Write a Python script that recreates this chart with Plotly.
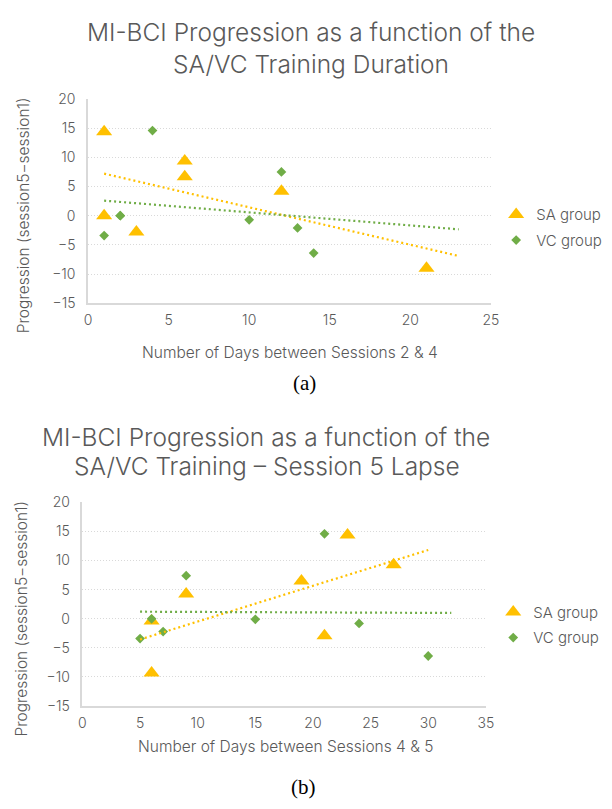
import numpy as np
import plotly.graph_objects as go

# ---------------- data: panel (a) ----------------
A_SA_X = [1, 1, 3, 6, 6, 12, 21]
A_SA_Y = [14.4, 0, -2.8, 9.4, 6.7, 4.2, -9.0]
# VC group: the point at (2, 0) appears twice (overlapping diamonds)
A_VC_X = [1, 2, 2, 4, 10, 12, 13, 14]
A_VC_Y = [-3.4, 0, 0, 14.6, -0.7, 7.5, -2.1, -6.4]
A_SA_TREND_X = [1, 23]
A_VC_TREND_X = [1, 23]
A_XTICKS = [0, 5, 10, 15, 20, 25]

# ---------------- data: panel (b) ----------------
B_SA_X = [6, 6, 9, 19, 21, 23, 27]
B_SA_Y = [-0.4, -9.3, 4.25, 6.5, -2.9, 14.4, 9.3]
B_VC_X = [5, 6, 7, 9, 15, 21, 24, 30]
B_VC_Y = [-3.4, 0, -2.2, 7.4, -0.1, 14.6, -0.8, -6.4]
B_SA_TREND_X = [5, 30]
B_VC_TREND_X = [5, 32]
B_XTICKS = [0, 5, 10, 15, 20, 25, 30, 35]

YTICKS = [-15, -10, -5, 0, 5, 10, 15, 20]

TITLE_A = ["MI-BCI Progression as a function of the", "SA/VC Training Duration"]
TITLE_B = ["MI-BCI Progression as a function of the", "SA/VC Training – Session 5 Lapse"]
XTITLE_A = "Number of Days between Sessions 2 & 4"
XTITLE_B = "Number of Days between Sessions 4 & 5"
YTITLE = "Progression (session5−session1)"
SERIES = ["SA group", "VC group"]

# ---------------- style ----------------
W, H = 612, 809
YEL = "#FFC000"
GRN = "#70AD47"
TXT = "#595959"
GRID = "#d9d9d9"
FONT = "Inter"


def px(v):
    return v / W


def py(v):
    return 1 - v / H


def trend(xs, ys, ends):
    m, c = np.polyfit(xs, ys, 1)
    return [m * e + c for e in ends]


fig = go.Figure()

panels = [
    ("x", "y", "legend", A_SA_X, A_SA_Y, A_VC_X, A_VC_Y, A_SA_TREND_X, A_VC_TREND_X),
    ("x2", "y2", "legend2", B_SA_X, B_SA_Y, B_VC_X, B_VC_Y, B_SA_TREND_X, B_VC_TREND_X),
]
for xa, ya, lg, sx, sy, vx, vy, stx, vtx in panels:
    fig.add_trace(go.Scatter(
        x=sx, y=sy, mode="markers", name=SERIES[0], xaxis=xa, yaxis=ya,
        legend=lg, legendgroup=lg + "sa",
        marker=dict(symbol="triangle-up", size=14, color=YEL, line=dict(width=0)),
    ))
    fig.add_trace(go.Scatter(
        x=vx, y=vy, mode="markers", name=SERIES[1], xaxis=xa, yaxis=ya,
        legend=lg, legendgroup=lg + "vc",
        marker=dict(symbol="diamond", size=7.5, color=GRN, line=dict(width=0)),
    ))
    fig.add_trace(go.Scatter(
        x=stx, y=trend(sx, sy, stx), mode="lines", xaxis=xa, yaxis=ya,
        showlegend=False, hoverinfo="skip",
        line=dict(color=YEL, width=2.2, dash="2px,3px"),
    ))
    fig.add_trace(go.Scatter(
        x=vtx, y=trend(vx, vy, vtx), mode="lines", xaxis=xa, yaxis=ya,
        showlegend=False, hoverinfo="skip",
        line=dict(color=GRN, width=2.2, dash="2px,3px"),
    ))

axis_common = dict(
    showline=True, linecolor=GRID, linewidth=1.5, zeroline=False, ticks="",
    tickfont=dict(family=FONT, size=14, color=TXT, weight=300), fixedrange=True,
)
legend_common = dict(
    xanchor="left", yanchor="middle", bgcolor="rgba(0,0,0,0)",
    font=dict(family=FONT, size=15, color=TXT, weight=300),
    tracegroupgap=3, itemsizing="trace",
)
fig.update_layout(
    width=W, height=H,
    margin=dict(l=0, r=0, t=0, b=0),
    paper_bgcolor="white", plot_bgcolor="white",
    font=dict(family=FONT, color=TXT),
    xaxis=dict(domain=[px(85.7), px(496.7)], range=[0, 25], tickvals=A_XTICKS,
               showgrid=False, anchor="y", ticklabelstandoff=3, **axis_common),
    yaxis=dict(domain=[py(300.5), py(92)], range=[-15, 20], tickvals=YTICKS,
               showgrid=True, gridcolor=GRID, gridwidth=1, griddash="1px,2px",
               anchor="x", ticklabelstandoff=8, **axis_common),
    xaxis2=dict(domain=[px(80), px(491.5)], range=[0, 35], tickvals=B_XTICKS,
                showgrid=False, anchor="y2", ticklabelstandoff=3, **axis_common),
    yaxis2=dict(domain=[py(712), py(504)], range=[-15, 20], tickvals=YTICKS,
                showgrid=True, gridcolor=GRID, gridwidth=1, griddash="1px,2px",
                anchor="x2", ticklabelstandoff=8, **axis_common),
    legend=dict(x=px(502), y=py(223), **legend_common),
    legend2=dict(x=px(499), y=py(629), **legend_common),
    showlegend=True,
)

TF = dict(family=FONT, size=24.5, color=TXT, weight=300)
AF = dict(family=FONT, size=15.5, color=TXT, weight=300)
SF = dict(family="Liberation Serif", size=21, color="#000000")
ann = [
    dict(text=TITLE_A[0], x=px(313), y=py(24), font=TF),
    dict(text=TITLE_A[1], x=px(313), y=py(56), font=TF),
    dict(text=TITLE_B[0], x=px(267), y=py(437), font=TF),
    dict(text=TITLE_B[1], x=px(268), y=py(467), font=TF),
    dict(text=XTITLE_A, x=px(291.5), y=py(351), font=AF),
    dict(text=XTITLE_B, x=px(287), y=py(753), font=AF),
    dict(text=YTITLE, x=px(20), y=py(211), textangle=-90, font=AF),
    dict(text=YTITLE, x=px(18), y=py(623), textangle=-90, font=AF),
    dict(text="(a)", x=px(307), y=py(382), font=SF),
    dict(text="(b)", x=px(305), y=py(795), font=SF),
]
for a in ann:
    a.update(xref="paper", yref="paper", xanchor="center", yanchor="middle", showarrow=False)
fig.update_layout(annotations=ann)

fig.write_html("out.html", config={"displayModeBar": False},
               post_script="document.body.style.margin='0';")
